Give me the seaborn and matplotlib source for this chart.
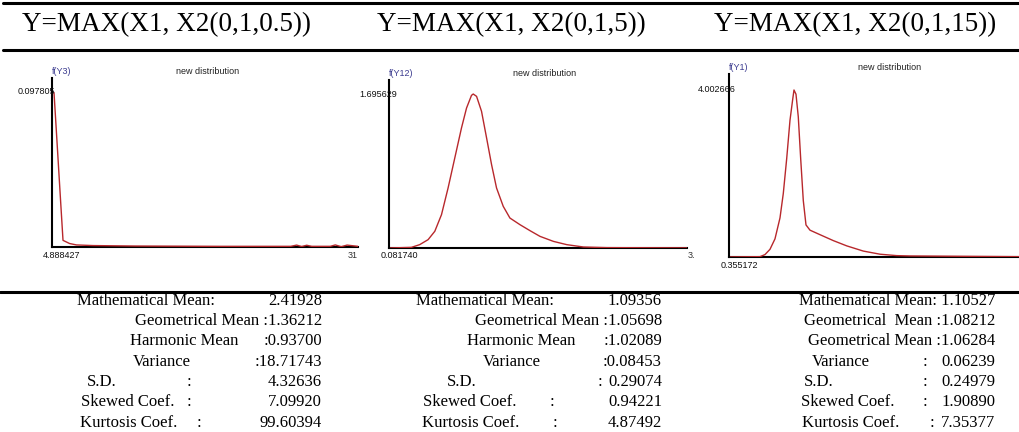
import numpy as np
import pandas as pd
import seaborn as sns
import matplotlib
matplotlib.use("Agg")
import matplotlib.pyplot as plt
from matplotlib.lines import Line2D

sns.set_theme(style="white")
plt.rcParams["font.family"] = ["Liberation Serif", "DejaVu Serif"]

# ---------------- data ----------------
titles = ["Y=MAX(X1, X2(0,1,0.5))", "Y=MAX(X1, X2(0,1,5))", "Y=MAX(X1, X2(0,1,15))"]
y_names = ["f(Y3)", "f(Y12)", "f(Y1)"]
peak_values = [0.097805, 1.695629, 4.002666]
peak_labels = ["0.097805", "1.695629", "4.002666"]
x_min_values = [-4.888427, 0.081740, 0.355172]
x_min_labels = ["4.888427", "0.081740", "0.355172"]
x_max_values = [31.5, 3.2, 3.255]
x_max_labels = ["31", "3.", ""]

# panel 1 density
x1 = [-4.65, -4.30, -3.90, -3.58, -2.80, -1.98, 0.0, 5.0, 10.0, 15.0, 20.0,
      23.5, 24.2, 24.8, 25.4, 26.0, 28.2, 28.8, 29.5, 30.2, 31.5]
y1 = [0.0974, 0.0670, 0.0320, 0.0042, 0.0022, 0.0013, 0.0009, 0.0006, 0.0005,
      0.0004, 0.0004, 0.0004, 0.0012, 0.0003, 0.0011, 0.0004, 0.0004, 0.0013,
      0.0002, 0.0012, 0.0004]
# panel 2 density
x2 = [0.082, 0.316, 0.403, 0.491, 0.561, 0.631, 0.700, 0.770, 0.840, 0.893,
      0.945, 0.963, 0.998, 1.050, 1.103, 1.155, 1.207, 1.277, 1.347, 1.452,
      1.557, 1.662, 1.802, 1.941, 2.116, 2.361, 3.2]
y2 = [0.0, 0.007, 0.037, 0.092, 0.184, 0.367, 0.661, 0.991, 1.321, 1.541,
      1.681, 1.6956, 1.670, 1.505, 1.211, 0.918, 0.661, 0.459, 0.330, 0.257,
      0.191, 0.128, 0.073, 0.037, 0.011, 0.004, 0.001]
# panel 3 density
x3 = [0.355, 0.665, 0.715, 0.765, 0.815, 0.865, 0.898, 0.932, 0.965, 0.992,
      1.005, 1.025, 1.048, 1.072, 1.098, 1.125, 1.165, 1.265, 1.398, 1.532,
      1.698, 1.865, 2.032, 2.165, 3.255]
y3 = [0.0, 0.008, 0.058, 0.184, 0.435, 0.936, 1.521, 2.356, 3.276, 3.777,
      4.0027, 3.902, 3.359, 2.356, 1.354, 0.769, 0.643, 0.535, 0.393, 0.267,
      0.142, 0.067, 0.033, 0.025, 0.008]
curves = [(x1, y1), (x2, y2), (x3, y3)]

stat_labels = [
    ["Mathematical Mean:", "", "Harmonic Mean", "Variance", "S.D.", "Skewed Coef.", "Kurtosis Coef."],
    ["Mathematical Mean:", "", "Harmonic Mean", "Variance", "S.D.", "Skewed Coef.", "Kurtosis Coef."],
    ["", "", "", "Variance", "S.D.", "Skewed Coef.", "Kurtosis Coef."],
]
stat_values = [
    ["2.41928", "Geometrical Mean :1.36212", ":0.93700", ":18.71743", "4.32636", "7.09920", "99.60394"],
    ["1.09356", "Geometrical Mean :1.05698", ":1.02089", ":0.08453", "0.29074", "0.94221", "4.87492"],
    ["Mathematical Mean: 1.10527", "Geometrical  Mean :1.08212", "Geometrical Mean :1.06284",
     "0.06239", "0.24979", "1.90890", "7.35377"],
]
stat_colons = [
    [False, False, False, False, True, True, True],
    [False, False, False, False, True, True, True],
    [False, False, False, True, True, True, True],
]

# ---------------- layout (pixels) ----------------
W, H = 1019, 432
fig = plt.figure(figsize=(W / 100, H / 100), dpi=100)
fig.patch.set_facecolor("white")

def fx(px):
    return px / W

def fy(py):
    return 1 - py / H

axes_px = [(52, 358, 78, 247), (389, 687, 80, 248), (729, 1019, 74, 257)]
ytops = [0.1066, 1.85, 4.386]
peak_pad = [3, 8, 7]
newdist_frac = [0.507, 0.523, 0.555]
red = "#b8282c"
sans = ["Liberation Sans", "DejaVu Sans"]

for i, (l, r, t, b) in enumerate(axes_px):
    ax = fig.add_axes([fx(l), fy(b), (r - l) / W, (b - t) / H])
    ax.set_facecolor("none")
    xs, ys = curves[i]
    df = pd.DataFrame({"x": xs, "y": ys})
    sns.lineplot(data=df, x="x", y="y", ax=ax, color=red, linewidth=1.0,
                 estimator=None, sort=False)
    ax.set_xlim(x_min_values[i], x_max_values[i])
    ax.set_ylim(0, ytops[i])
    ax.set_xticks([])
    ax.set_yticks([])
    ax.set_xlabel("")
    ax.set_ylabel("")
    for s in ["top", "right"]:
        ax.spines[s].set_visible(False)
    for s in ["left", "bottom"]:
        ax.spines[s].set_visible(True)
        ax.spines[s].set_color("black")
        ax.spines[s].set_linewidth(1.5)
    ax.spines["bottom"].set_zorder(1)
    # labels
    ax.annotate(y_names[i], xy=(0, 1), xycoords="axes fraction",
                xytext=(0, 7), textcoords="offset pixels", ha="left", va="center",
                fontsize=6.5, color="#3b3b8f", family=sans, annotation_clip=False)
    ax.annotate("new distribution", xy=(newdist_frac[i], 1), xycoords="axes fraction",
                xytext=(0, 7), textcoords="offset pixels", ha="center", va="center",
                fontsize=6.5, color="#222222", family=sans, annotation_clip=False)
    ax.annotate(peak_labels[i], xy=(x_min_values[i], peak_values[i]), xycoords="data",
                xytext=(peak_pad[i], 0), textcoords="offset pixels", ha="right", va="center",
                fontsize=6.5, color="#111111", family=sans, annotation_clip=False)
    ax.annotate(x_min_labels[i], xy=(x_min_values[i], 0), xycoords="data",
                xytext=(10, -8), textcoords="offset pixels", ha="center", va="center",
                fontsize=6.5, color="#111111", family=sans, annotation_clip=False)
    if x_max_labels[i]:
        ax.annotate(x_max_labels[i], xy=(x_max_values[i], 0), xycoords="data",
                    xytext=(0 if i == 0 else 1, -8), textcoords="offset pixels",
                    ha="right" if i == 0 else "left", va="center",
                    fontsize=6.5, color="#333333", family=sans, annotation_clip=False)

# horizontal rules
for yy, x0 in [(3, 3), (50, 3), (292, 0)]:
    fig.add_artist(Line2D([fx(x0), 1], [fy(yy), fy(yy)], transform=fig.transFigure,
                          color="black", linewidth=2.2))

# titles
title_cx = [167, 511, 855]
for cx, t in zip(title_cx, titles):
    fig.text(fx(cx), fy(25), t, ha="center", va="center", fontsize=19.5, color="black")

# statistics
line_y = [301, 321, 341, 362, 382, 402, 423]
label_cx = [
    [146, None, 184, 162, 102, 128, 129],
    [485, None, 521, 512, 462, 470, 471],
    [None, None, None, 841, 819, 848, 851],
]
value_right = [322, 662, 995]
colon_x = [
    [None, None, None, None, 189, 189, 199],
    [None, None, None, None, 600, 552, 555],
    [None, None, None, 925, 925, 925, 932],
]
fs = 12
for p in range(3):
    for k in range(7):
        yk = fy(line_y[k])
        if stat_labels[p][k]:
            fig.text(fx(label_cx[p][k]), yk, stat_labels[p][k], ha="center", va="center",
                     fontsize=fs, color="black")
        if stat_colons[p][k]:
            fig.text(fx(colon_x[p][k]), yk, ":", ha="center", va="center",
                     fontsize=fs, color="black")
        fig.text(fx(value_right[p]), yk, stat_values[p][k], ha="right", va="center",
                 fontsize=fs, color="black")

fig.savefig("out.png", dpi=100, facecolor="white")
